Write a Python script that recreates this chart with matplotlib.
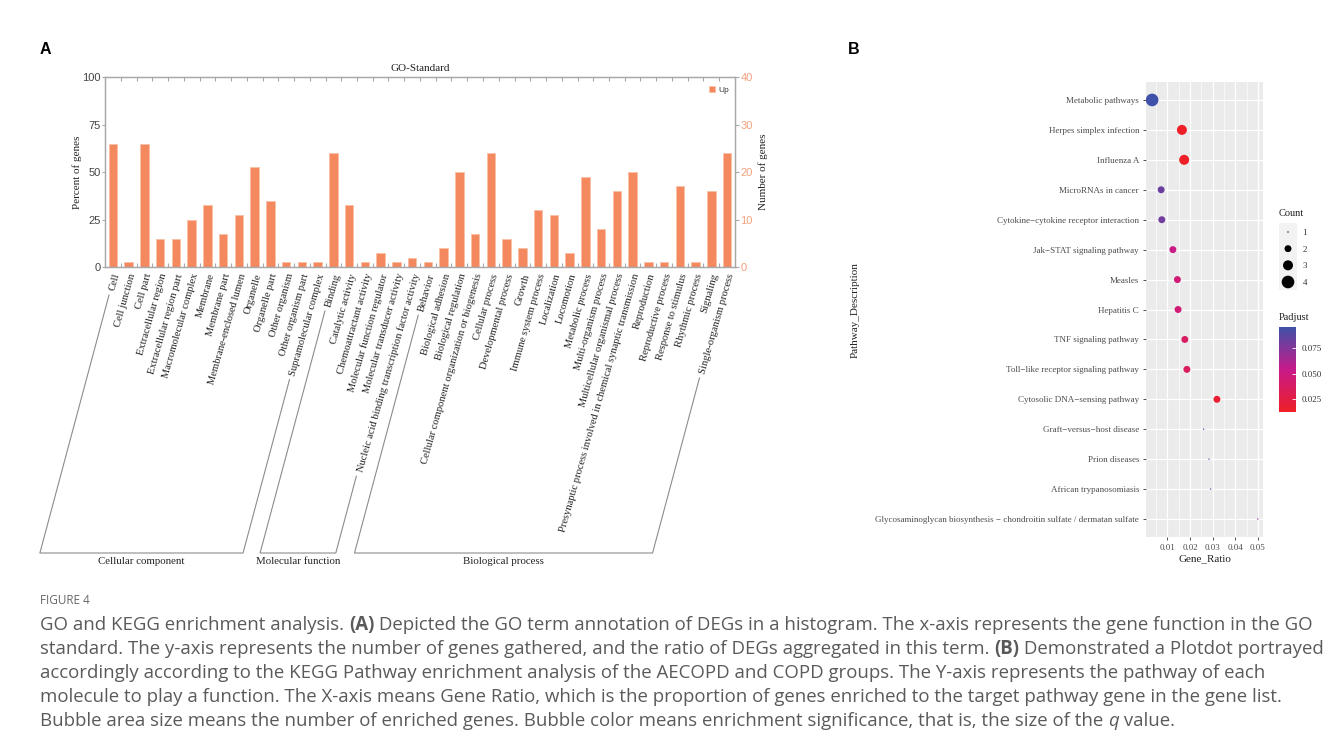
import numpy as np
import matplotlib
matplotlib.use("Agg")
import matplotlib.pyplot as plt
from matplotlib.colors import LinearSegmentedColormap
from matplotlib.lines import Line2D

# ---------------- data: panel A (GO-Standard) ----------------
go_terms = [
    "Cell", "Cell junction", "Cell part", "Extracellular region", "Extracellular region part",
    "Macromolecular complex", "Membrane", "Membrane part", "Membrane-enclosed lumen",
    "Organelle", "Organelle part", "Other organism", "Other organism part",
    "Supramolecular complex",
    "Binding", "Catalytic activity", "Chemoattractant activity", "Molecular function regulator",
    "Molecular transducer activity", "Nucleic acid binding transcription factor activity",
    "Behavior", "Biological adhesion", "Biological regulation",
    "Cellular component organization or biogenesis", "Cellular process",
    "Developmental process", "Growth", "Immune system process", "Localization", "Locomotion",
    "Metabolic process", "Multi-organism process", "Multicellular organismal process",
    "Presynaptic process involved in chemical synaptic transmission", "Reproduction",
    "Reproductive process", "Response to stimulus", "Rhythmic process", "Signaling",
    "Single-organism process",
]
go_counts = [26, 1, 26, 6, 6, 10, 13, 7, 11, 21, 14, 1, 1, 1,
             24, 13, 1, 3, 1, 2,
             1, 4, 20, 7, 24, 6, 4, 12, 11, 3, 19, 8, 16, 20, 1, 1, 17, 1, 16, 24]
total_genes = 40
go_groups = ["Cellular component", "Molecular function", "Biological process"]
go_group_sizes = [14, 6, 20]
series_name = "Up"

# ---------------- data: panel B (KEGG dot plot) ----------------
pathways = [
    "Metabolic pathways", "Herpes simplex infection", "Influenza A", "MicroRNAs in cancer",
    "Cytokine\u2212cytokine receptor interaction", "Jak\u2212STAT signaling pathway", "Measles",
    "Hepatitis C", "TNF signaling pathway", "Toll\u2212like receptor signaling pathway",
    "Cytosolic DNA\u2212sensing pathway", "Graft\u2212versus\u2212host disease", "Prion diseases",
    "African trypanosomiasis",
    "Glycosaminoglycan biosynthesis \u2212 chondroitin sulfate / dermatan sulfate",
]
gene_ratio = [0.0032, 0.0164, 0.0174, 0.0072, 0.0075, 0.0124, 0.0144, 0.0147, 0.0177,
              0.0186, 0.0319, 0.0260, 0.0284, 0.0291, 0.0500]
gene_count = [4, 3, 3, 2, 2, 2, 2, 2, 2, 2, 2, 1, 1, 1, 1]
padjust = [0.0955, 0.0127, 0.0127, 0.082, 0.080, 0.052, 0.046, 0.045, 0.037, 0.035,
           0.018, 0.090, 0.090, 0.090, 0.068]
count_levels = [1, 2, 3, 4]
padj_ticks = [0.025, 0.050, 0.075]

caption_title = "FIGURE 4"
caption_lines = [
    [("GO and KEGG enrichment analysis. ", "normal"), ("(A)", "bold"),
     (" Depicted the GO term annotation of DEGs in a histogram. The x-axis represents the gene function in the GO", "normal")],
    [("standard. The y-axis represents the number of genes gathered, and the ratio of DEGs aggregated in this term. ", "normal"),
     ("(B)", "bold"), (" Demonstrated a Plotdot portrayed", "normal")],
    [("accordingly according to the KEGG Pathway enrichment analysis of the AECOPD and COPD groups. The Y-axis represents the pathway of each", "normal")],
    [("molecule to play a function. The X-axis means Gene Ratio, which is the proportion of genes enriched to the target pathway gene in the gene list.", "normal")],
    [("Bubble area size means the number of enriched genes. Bubble color means enrichment significance, that is, the size of the ", "normal"),
     ("q", "italic"), (" value.", "normal")],
]

# ---------------- figure ----------------
W, H = 1331, 749
fig = plt.figure(figsize=(W / 100, H / 100), dpi=100)
fig.patch.set_facecolor("white")


def fx(px):
    return px / W


def fy(py):
    return 1 - py / H


SERIF = "Liberation Serif"
SANS = "Liberation Sans"
BAR = "#F4895F"
BAR_EDGE = "#F9C0A5"
ORANGE_TXT = "#F4A07C"
GRAY_SPINE = "#A8A8A8"

# ---------------- panel A ----------------
ax = fig.add_axes([fx(105), fy(267), fx(735) - fx(105), (267 - 77) / H])
xpos = np.arange(len(go_terms))
percent = np.array(go_counts) * 100.0 / total_genes
ax.bar(xpos, percent, width=0.55, color=BAR, edgecolor=BAR_EDGE, linewidth=0.6,
       label=series_name, zorder=2)
ax.set_xlim(-0.5, len(go_terms) - 0.5)
ax.set_ylim(0, 100)
ax.set_yticks([0, 25, 50, 75, 100])
for s in ax.spines.values():
    s.set_color(GRAY_SPINE)
    s.set_linewidth(0.9)
ax.tick_params(axis="y", colors=GRAY_SPINE, labelsize=8, length=2.5, width=0.8,
               direction="out", pad=0.5)
for t in ax.get_yticklabels():
    t.set_fontfamily(SANS)
    t.set_color("#444444")
ax.set_xticks(xpos)
ax.set_xticklabels(go_terms, rotation=74, ha="right", va="top", rotation_mode="anchor",
                   fontsize=7.6, fontfamily=SERIF, color="#222222")
ax.tick_params(axis="x", which="major", length=0, pad=4)
ax.set_xticks(np.arange(0.5, len(go_terms) - 0.5, 1), minor=True)
ax.tick_params(axis="x", which="minor", direction="in", length=3, width=0.8,
               color=GRAY_SPINE, top=True, bottom=True)
ax.set_title("GO-Standard", fontsize=8, fontfamily=SERIF, pad=4, color="#222222")
ax.set_ylabel("Percent of genes", fontsize=8, fontfamily=SERIF, color="#222222", labelpad=0.5)

axr = ax.twinx()
axr.set_ylim(0, total_genes)
axr.set_yticks([0, 10, 20, 30, 40])
for s in axr.spines.values():
    s.set_color(GRAY_SPINE)
    s.set_linewidth(0.9)
axr.tick_params(axis="y", colors=GRAY_SPINE, labelsize=8, length=3, width=0.8, pad=1)
for t in axr.get_yticklabels():
    t.set_fontfamily(SANS)
    t.set_color(ORANGE_TXT)
axr.set_ylabel("Number of genes", fontsize=8, fontfamily=SERIF, color="#222222", labelpad=4)
leg = ax.legend(loc="upper right", bbox_to_anchor=(1.0, 0.985), frameon=False,
                handlelength=0.7, handleheight=0.7, handletextpad=0.4, borderaxespad=0.3,
                prop={"family": SANS, "size": 6})
for t in leg.get_texts():
    t.set_color("#333333")

# group brackets
fig.canvas.draw()
renderer = fig.canvas.get_renderer()
labels = ax.get_xticklabels()
base_y = H - 553  # display coords (from bottom)
ang = np.deg2rad(75)
start = 0
for name, size in zip(go_groups, go_group_sizes):
    end = start + size - 1
    pts = []
    for idx in (start, end):
        bb = labels[idx].get_window_extent(renderer)
        x0, y0 = bb.x0 + 1, bb.y0 - 3
        xb = x0 - (y0 - base_y) / np.tan(ang)
        pts.append((x0, y0, xb))
    (x0a, y0a, xba), (x0b, y0b, xbb) = pts
    xs = [x0a, xba, xbb, x0b]
    ys = [y0a, base_y, base_y, y0b]
    fig.add_artist(Line2D([v / W for v in xs], [v / H for v in ys], color="#8C8C8C",
                          lw=0.8, transform=fig.transFigure))
    fig.text(((xba + xbb) / 2) / W, fy(562), name, ha="center", va="center",
             fontsize=7.8, fontfamily=SERIF, color="#222222")
    start = end + 1

# ---------------- panel B ----------------
cmap = LinearSegmentedColormap.from_list("padj", ["#EE1F26", "#C81A8A", "#3F51A8"])
ax2 = fig.add_axes([fx(1146), fy(537), fx(1263) - fx(1146), (537 - 82) / H])
ax2.set_facecolor("#EBEBEB")
for s in ax2.spines.values():
    s.set_visible(False)
ypos = np.arange(len(pathways))


def dot_size(c):
    return np.interp(c, [1, 2, 3, 4], [1.0, 5.0, 7.2, 9.1]) ** 2


sc = ax2.scatter(gene_ratio, ypos, s=dot_size(np.array(gene_count)), c=padjust, cmap=cmap,
                 vmin=0.0127, vmax=0.0955, edgecolors="none", zorder=3)
ax2.set_xlim(0.0005, 0.0523)
ax2.set_ylim(len(pathways) - 1 + 0.6, -0.6)
ax2.set_xticks([0.01, 0.02, 0.03, 0.04, 0.05])
ax2.set_xticklabels(["0.01", "0.02", "0.03", "0.04", "0.05"])
ax2.set_xticks([0.005, 0.015, 0.025, 0.035, 0.045], minor=True)
ax2.set_yticks(ypos)
ax2.set_yticklabels(pathways)
ax2.set_axisbelow(True)
ax2.grid(which="major", color="white", lw=0.9)
ax2.grid(which="minor", axis="x", color="white", lw=0.45)
ax2.tick_params(which="major", length=2, width=0.6, color="#333333", labelsize=6.5,
                labelcolor="#4D4D4D", pad=3)
ax2.tick_params(which="minor", length=0)
for t in ax2.get_xticklabels() + ax2.get_yticklabels():
    t.set_fontfamily(SERIF)
ax2.set_xlabel("Gene_Ratio", fontsize=8, fontfamily=SERIF, color="#222222", labelpad=2)
fig.text(fx(855), fy(310), "Pathway_Description", rotation=90, ha="center", va="center",
         fontsize=8, fontfamily=SERIF, color="#222222")

# count legend
fig.text(fx(1279), fy(213), "Count", ha="left", va="center", fontsize=7.5,
         fontfamily=SERIF, color="#222222")
lax = fig.add_axes([fx(1279), fy(290), 18 / W, 67 / H])
lax.set_facecolor("#F2F2F2")
lax.scatter(np.zeros(len(count_levels)), count_levels, s=dot_size(np.array(count_levels)),
            color="black", edgecolors="none")
lax.set_xlim(-1, 1)
lax.set_ylim(4.48, 0.46)
lax.set_xticks([])
lax.yaxis.tick_right()
lax.set_yticks(count_levels)
lax.set_yticklabels([str(c) for c in count_levels])
lax.tick_params(axis="y", length=0, labelsize=6.5, labelcolor="#333333", pad=4)
for t in lax.get_yticklabels():
    t.set_fontfamily(SERIF)
for s in lax.spines.values():
    s.set_visible(False)

# colorbar legend
fig.text(fx(1279), fy(317), "Padjust", ha="left", va="center", fontsize=7.5,
         fontfamily=SERIF, color="#222222")
cax = fig.add_axes([fx(1279), fy(412), 17 / W, 85 / H])
cb = fig.colorbar(sc, cax=cax, ticks=padj_ticks)
cb.outline.set_visible(False)
cb.ax.set_yticklabels([f"{v:.3f}" for v in padj_ticks])
cb.ax.tick_params(color="white", direction="in", length=3, width=0.6, labelsize=6.5,
                  labelcolor="#333333", pad=4)
for t in cb.ax.get_yticklabels():
    t.set_fontfamily(SERIF)

# panel letters
fig.text(fx(40), fy(50), "A", ha="left", va="center", fontsize=11.5, fontweight="bold",
         fontfamily=SANS, color="black")
fig.text(fx(848), fy(50), "B", ha="left", va="center", fontsize=11.5, fontweight="bold",
         fontfamily=SANS, color="black")

# ---------------- caption ----------------
CAP_FONT = "Open Sans"
CAP_COLOR = "#5A5A5A"
fig.text(fx(40), fy(600), caption_title, ha="left", va="center", fontsize=8.5,
         fontfamily=CAP_FONT, color="#666666")


def draw_runs(x_px, y_px, runs, fs, measure_only=False):
    x = x_px
    made = []
    for txt, style in runs:
        t = fig.text(x / W, fy(y_px), txt, ha="left", va="baseline", fontsize=fs,
                     fontfamily=CAP_FONT, color=CAP_COLOR,
                     fontweight="bold" if style == "bold" else "normal",
                     fontstyle="italic" if style == "italic" else "normal")
        bb = t.get_window_extent(renderer)
        x += bb.width
        made.append(t)
    if measure_only:
        for t in made:
            t.remove()
    return x - x_px


w1 = draw_runs(40, 628, caption_lines[0], 10, measure_only=True)
w2 = draw_runs(40, 628, caption_lines[1], 10, measure_only=True)
fs_cap = 10 * (1320 - 40) / max(w1, w2)
for i, runs in enumerate(caption_lines):
    draw_runs(40, 630 + 24 * i, runs, fs_cap)

fig.savefig("out.png", dpi=100)
